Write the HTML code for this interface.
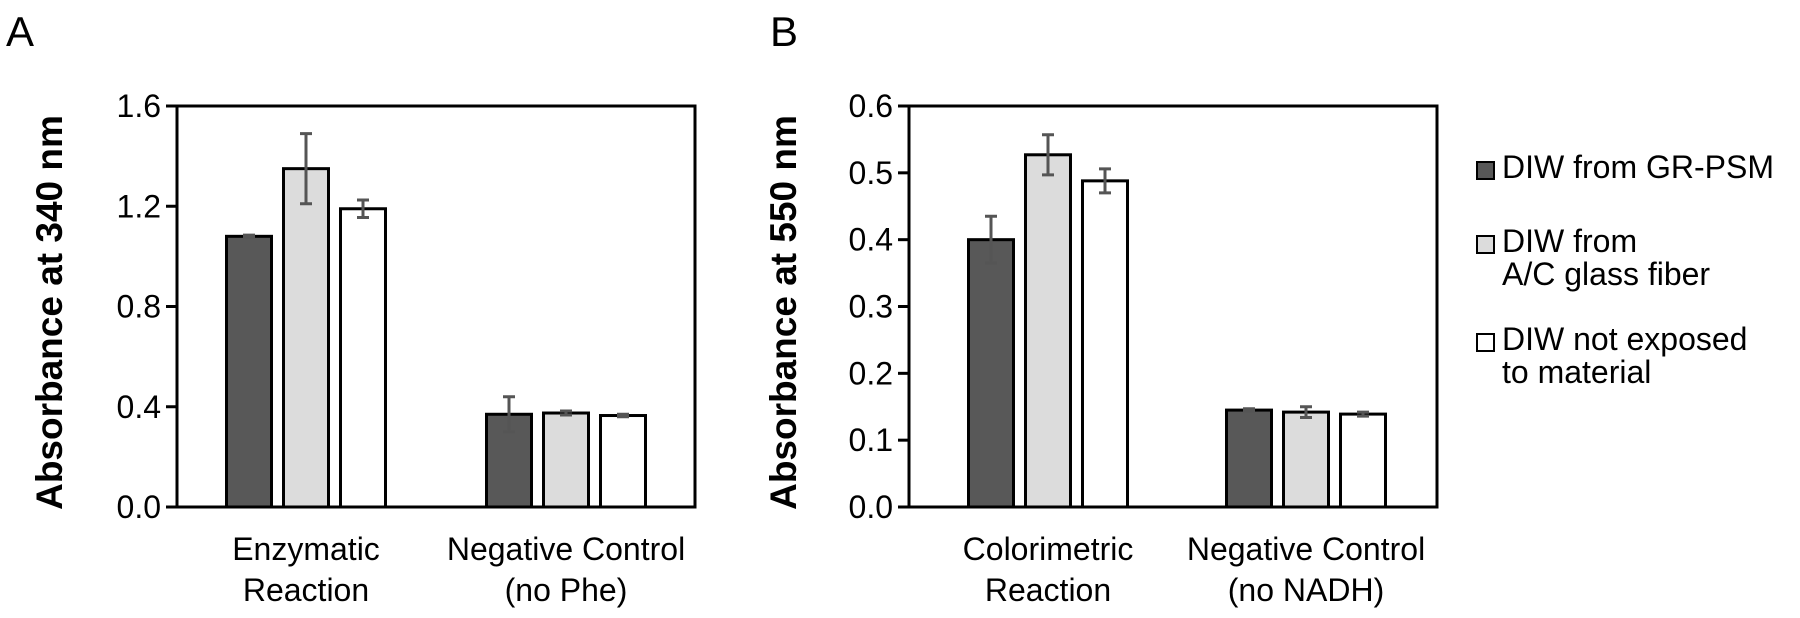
<!DOCTYPE html>
<html><head><meta charset="utf-8"><style>
html,body{margin:0;padding:0;background:#fff;}
svg text{font-family:"Liberation Sans",Arial,sans-serif;fill:#000;}
</style></head><body>
<svg id="fig" width="1800" height="613" viewBox="0 0 1800 613" xmlns="http://www.w3.org/2000/svg"></svg>
<script>
const seriesNames = ["DIW from GR-PSM", "DIW from A/C glass fiber", "DIW not exposed to material"];
const catsA = [["Enzymatic","Reaction"],["Negative Control","(no Phe)"]];
const valsA = [[1.08,1.35,1.19],[0.37,0.375,0.365]];
const errA = [[0.005,0.14,0.035],[0.07,0.008,0.005]];
const ticksA = ["0.0","0.4","0.8","1.2","1.6"];
const catsB = [["Colorimetric","Reaction"],["Negative Control","(no NADH)"]];
const valsB = [[0.40,0.527,0.488],[0.145,0.142,0.139]];
const errB = [[0.035,0.03,0.018],[0.002,0.008,0.003]];
const ticksB = ["0.0","0.1","0.2","0.3","0.4","0.5","0.6"];

const NS="http://www.w3.org/2000/svg";
const svg=document.getElementById('fig');
const fills=["#585858","#dcdcdc","#ffffff"];
function mk(tag,attrs,parent){const e=document.createElementNS(NS,tag);for(const k in attrs)e.setAttribute(k,attrs[k]);(parent||svg).appendChild(e);return e;}

function panel(opt){
  const g=mk('g',{});
  
  
  const x0=opt.x0,x1=opt.x1,yTop=106,yBot=507;
  const ymax=parseFloat(opt.ticks[opt.ticks.length-1]);
  const y=v=>yBot-(v/ymax)*(yBot-yTop);
  const frame=mk('rect',{x:x0,y:yTop,width:x1-x0,height:yBot-yTop,fill:'none',stroke:'#000','stroke-width':3},g);
  
  
  opt.ticks.forEach(t=>{
    const yy=y(parseFloat(t));
    const tl=mk('line',{x1:x0-11,x2:x0,y1:yy,y2:yy,stroke:'#000','stroke-width':3},g);
    
    
    const tx=mk('text',{x:x0-16,y:yy+11,'font-size':32,'text-anchor':'end'},g);
    tx.textContent=t;
    
    
  });
  const yt=mk('text',{x:0,y:0,'font-size':37,'font-weight':'bold','text-anchor':'middle',transform:`translate(${opt.titleX},${(yTop+yBot)/2+6}) rotate(-90)`},g);
  yt.textContent=opt.title;
  
  
  const bw=45,gap=12;
  opt.vals.forEach((grp,gi)=>{
    const c=opt.centers[gi];
    grp.forEach((v,si)=>{
      const bx=c+(si-1)*(bw+gap)-bw/2;
      const r=mk('rect',{x:bx,y:y(v),width:bw,height:yBot-y(v),fill:fills[si],stroke:'#000','stroke-width':3},g);
      
      
      const e=opt.err[gi][si],cx=bx+bw/2;
      const el=mk('path',{d:`M${cx},${y(v+e)}V${y(v-e)}M${cx-6},${y(v+e)}H${cx+6}M${cx-6},${y(v-e)}H${cx+6}`,stroke:'#555','stroke-width':3,fill:'none'},g);
      
      
    });
    opt.cats[gi].forEach((line,li)=>{
      const t=mk('text',{x:c,y:560+li*41,'font-size':32,'text-anchor':'middle'},g);
      t.textContent=line;
      
      
    });
  });
  const L=mk('text',{x:opt.letterX,y:46,'font-size':42},g);
  L.textContent=opt.letter;
  
  
}
panel({name:'panel-a',x0:177,x1:695,ticks:ticksA,vals:valsA,err:errA,cats:catsA,centers:[306,566],title:'Absorbance at 340 nm',titleX:62,letter:'A',letterX:6});
panel({name:'panel-b',x0:909,x1:1437,ticks:ticksB,vals:valsB,err:errB,cats:catsB,centers:[1048,1306],title:'Absorbance at 550 nm',titleX:796,letter:'B',letterX:770});

const lg=mk('g',{});


const legendLines=[["DIW from GR-PSM"],["DIW from","A/C glass fiber"],["DIW not exposed","to material"]];
const legY=[178,252,350];
legendLines.forEach((lines,i)=>{
  const sw=mk('rect',{x:1477,y:legY[i]-16,width:17,height:17,fill:fills[i],stroke:'#000','stroke-width':2},lg);
  
  
  lines.forEach((ln,j)=>{
    const t=mk('text',{x:1502,y:legY[i]+j*33,'font-size':32},lg);
    t.textContent=ln;
    
    
  });
});
</script>
</body></html>
